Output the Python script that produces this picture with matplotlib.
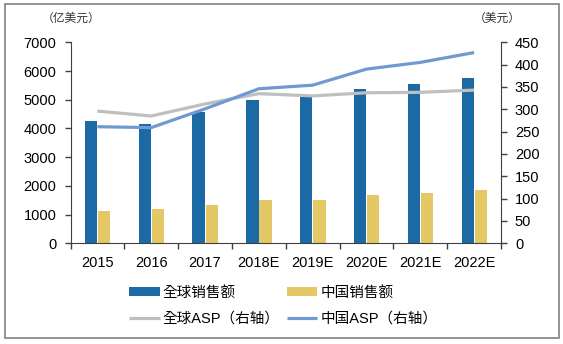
import numpy as np
import matplotlib
matplotlib.use("Agg")
import matplotlib.pyplot as plt
from matplotlib.patches import Rectangle

plt.rcParams['font.family'] = ['Liberation Sans', 'Noto Sans CJK TC']

years = ['2015', '2016', '2017', '2018E', '2019E', '2020E', '2021E', '2022E']
global_sales = [4250, 4170, 4580, 5000, 5100, 5360, 5550, 5750]   # 亿美元
china_sales = [1120, 1195, 1340, 1500, 1515, 1680, 1760, 1855]    # 亿美元
global_asp = [296, 285, 312, 335, 330, 337, 338, 343]             # 美元
china_asp = [261, 259, 301, 346, 354, 390, 405, 427]              # 美元

c_global = '#1B6AA5'
c_china = '#E5C866'
c_gasp = '#BFBFBF'
c_casp = '#7199D0'
c_axis = '#404040'

W, H = 563, 344
fig = plt.figure(figsize=(W / 100, H / 100), dpi=100)
ax = fig.add_axes([70.5 / W, 1 - 243.3 / H, (501 - 70.5) / W, (243.3 - 42.3) / H])

x = np.arange(len(years))
bw = 0.23
b1 = ax.bar(x - 0.118, global_sales, bw, color=c_global, label='全球销售额', zorder=2)
b2 = ax.bar(x + 0.125, china_sales, bw, color=c_china, label='中国销售额', zorder=2)

ax.set_xlim(-0.5, len(years) - 0.5)
ax.set_ylim(0, 7000)
ax.set_yticks(np.arange(0, 7001, 1000))
ax.set_xticks(np.arange(len(years) + 1) - 0.5)
ax.set_xticklabels([])
ax.set_xticks(x, minor=True)
ax.set_xticklabels(years, minor=True)
ax.tick_params(axis='x', which='major', length=4, width=1, color=c_axis, direction='out')
ax.tick_params(axis='x', which='minor', length=0, pad=9, labelsize=10.5)
ax.tick_params(axis='y', length=4, width=1, color=c_axis, pad=6, labelsize=10.5)
for s in ['top', 'right']:
    ax.spines[s].set_visible(False)
for s in ['left', 'bottom']:
    ax.spines[s].set_color(c_axis)

ax2 = ax.twinx()
l1, = ax2.plot(x, global_asp, color=c_gasp, lw=2.3, label='全球ASP（右轴）', solid_capstyle='butt')
l2, = ax2.plot(x, china_asp, color=c_casp, lw=2.3, label='中国ASP（右轴）', solid_capstyle='butt')
ax2.set_ylim(0, 450)
ax2.set_yticks(np.arange(0, 451, 50))
ax2.tick_params(axis='y', length=4, width=1, color=c_axis, pad=6, labelsize=10.5)
for s in ['top', 'left', 'bottom']:
    ax2.spines[s].set_visible(False)
ax2.spines['right'].set_color(c_axis)

fig.text(71 / W, 1 - 18 / H, '（亿美元）', ha='center', va='center', fontsize=8.5,
         color='#333333', family=['Noto Sans CJK TC'])
fig.text(497 / W, 1 - 18 / H, '（美元）', ha='center', va='center', fontsize=8.5,
         color='#333333', family=['Noto Sans CJK TC'])

fig.legend(handles=[b1, l1, b2, l2], ncol=2, loc='upper left',
           bbox_to_anchor=(129 / W, 1 - 286 / H), frameon=False, fontsize=10.5,
           borderpad=0, borderaxespad=0, handlelength=2.1, handleheight=0.55,
           handletextpad=0.2, columnspacing=0.5, labelspacing=0.8)

fig.add_artist(Rectangle((5 / W, 1 - 338 / H), (559 - 5) / W, (338 - 4) / H,
                         transform=fig.transFigure, fill=False, ec='#808080', lw=1.2))

fig.savefig('out.png', dpi=100)
